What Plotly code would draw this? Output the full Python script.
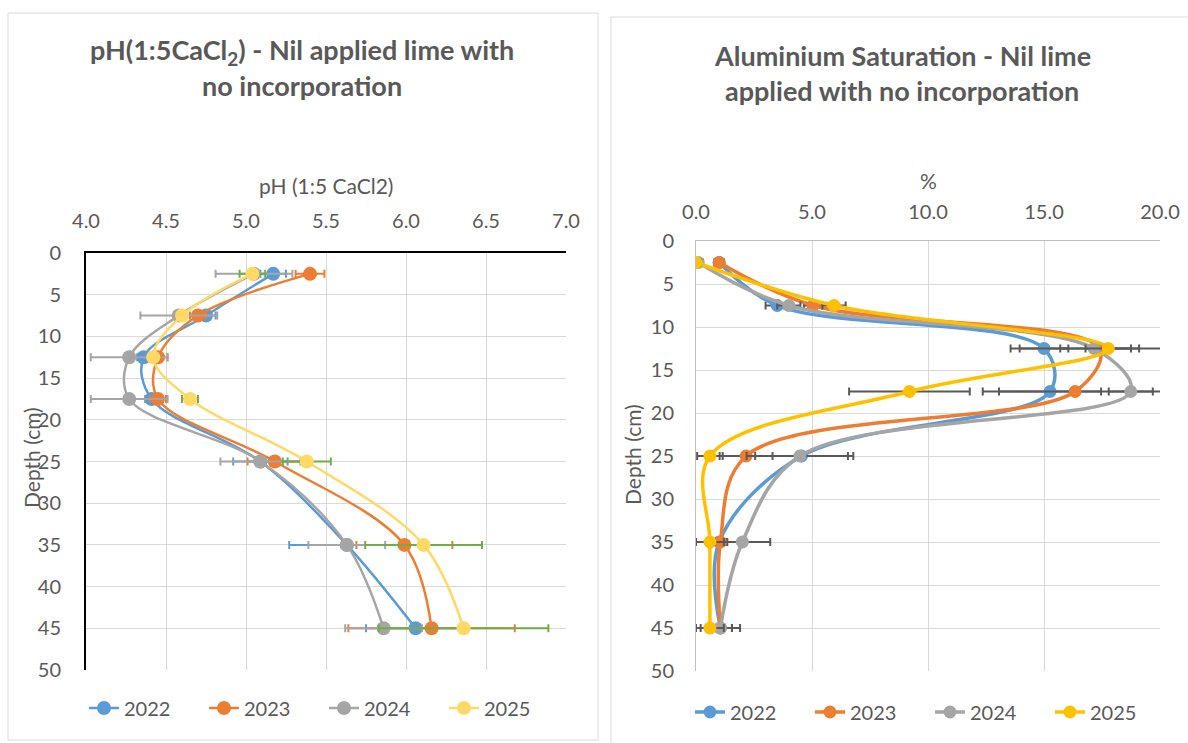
import plotly.graph_objects as go

W, H = 1188, 743

years = ["2022", "2023", "2024", "2025"]
depths = [2.5, 7.5, 12.5, 17.5, 25, 35, 45]

# pH (1:5 CaCl2)
ph_values = {
    "2022": [5.17, 4.75, 4.36, 4.41, 5.09, 5.63, 6.06],
    "2023": [5.40, 4.70, 4.45, 4.45, 5.18, 5.99, 6.16],
    "2024": [5.05, 4.58, 4.27, 4.27, 5.09, 5.63, 5.86],
    "2025": [5.04, 4.60, 4.42, 4.65, 5.38, 6.11, 6.36],
}
ph_err = {
    "2022": [0.08, 0.06, 0.04, 0.04, 0.17, 0.36, 0.31],
    "2023": [0.09, 0.05, 0.06, 0.05, 0.17, 0.30, 0.52],
    "2024": [0.24, 0.24, 0.24, 0.24, 0.25, 0.24, 0.24],
    "2025": [0.08, 0.03, 0.03, 0.05, 0.15, 0.365, 0.53],
}

# Aluminium saturation (%)
al_values = {
    "2022": [1.0, 3.5, 15.0, 15.26, 4.55, 1.0, 1.05],
    "2023": [1.0, 5.05, 17.4, 16.34, 2.16, 1.05, 1.05],
    "2024": [0.1, 4.0, 17.16, 18.74, 4.48, 2.0, 1.05],
    "2025": [0.0, 5.95, 17.77, 9.2, 0.6, 0.6, 0.6],
}
al_err = {
    "2022": [0.2, 0.5, 1.05, 2.2, 2.0, 0.3, 0.85],
    "2023": [0.2, 0.4, 1.7, 3.98, 1.14, 0.3, 0.5],
    "2024": [0.2, 0.5, 3.6, 0.95, 2.3, 1.2, 0.5],
    "2025": [0.2, 0.5, 0.98, 2.6, 0.55, 0.6, 0.6],
}

ph_colors = {"2022": "#5B9BD5", "2023": "#ED7D31", "2024": "#A5A5A5", "2025": "#FFD966"}
ph_err_colors = {"2022": "#5B9BD5", "2023": "#ED7D31", "2024": "#A5A5A5", "2025": "#70AD47"}
al_colors = {"2022": "#5B9BD5", "2023": "#ED7D31", "2024": "#A5A5A5", "2025": "#FFC000"}

FONT = "Lato"
TXT = "#595959"
GRID = "#D9D9D9"

fig = go.Figure()

for y in years:
    fig.add_trace(go.Scatter(
        x=ph_values[y], y=depths, name=y, mode="lines+markers",
        line=dict(color=ph_colors[y], width=2.5, shape="spline", smoothing=1.0),
        marker=dict(color=ph_colors[y], size=14),
        error_x=dict(type="data", array=ph_err[y], color=ph_err_colors[y], thickness=2, width=4),
        xaxis="x", yaxis="y", legend="legend",
    ))

for y in years:
    fig.add_trace(go.Scatter(
        x=al_values[y], y=depths, name=y, mode="lines+markers",
        line=dict(color=al_colors[y], width=3.5, shape="spline", smoothing=1.0),
        marker=dict(color=al_colors[y], size=13),
        error_x=dict(type="data", array=al_err[y], color="#595959", thickness=2, width=4),
        xaxis="x2", yaxis="y2", legend="legend2",
    ))

def px(x):
    return x / W

def py(y):
    return 1 - y / H

tickfont = dict(family=FONT, size=20, color=TXT)

fig.update_layout(
    width=W, height=H, margin=dict(l=0, r=0, t=0, b=0, autoexpand=False),
    paper_bgcolor="white", plot_bgcolor="white",
    showlegend=True,
    xaxis=dict(domain=[px(86), px(566)], range=[4.0, 7.0], dtick=0.5, tickformat=".1f",
               side="top", anchor="y", showgrid=True, gridcolor=GRID, gridwidth=1,
               showline=True, linecolor="black", linewidth=2, mirror=False,
               ticks="", tickfont=tickfont, ticklabelstandoff=15, zeroline=False),
    yaxis=dict(domain=[py(670), py(253)], range=[50, 0], dtick=5, anchor="x",
               showgrid=True, gridcolor=GRID, gridwidth=1,
               showline=True, linecolor="black", linewidth=2,
               ticks="", tickfont=tickfont, ticklabelstandoff=19, zeroline=False),
    xaxis2=dict(domain=[px(696), px(1160)], range=[0, 20], dtick=5, tickformat=".1f",
                side="top", anchor="y2", showgrid=True, gridcolor=GRID, gridwidth=1,
                showline=True, linecolor="#BFBFBF", linewidth=1,
                ticks="", tickfont=tickfont, ticklabelstandoff=13, zeroline=False),
    yaxis2=dict(domain=[py(671), py(241)], range=[50, 0], dtick=5, anchor="x2",
                showgrid=True, gridcolor=GRID, gridwidth=1,
                showline=True, linecolor="#BFBFBF", linewidth=1,
                ticks="", tickfont=tickfont, ticklabelstandoff=17, zeroline=False),
    legend=dict(orientation="h", x=px(84), y=py(708), xanchor="left", yanchor="middle",
                font=dict(family=FONT, size=20, color=TXT), entrywidth=75,
                entrywidthmode="pixels", bgcolor="rgba(0,0,0,0)", itemclick=False),
    legend2=dict(orientation="h", x=px(690), y=py(712), xanchor="left", yanchor="middle",
                 font=dict(family=FONT, size=20, color=TXT), entrywidth=75,
                 entrywidthmode="pixels", bgcolor="rgba(0,0,0,0)", itemclick=False),
)

# chart frames
fig.add_shape(type="rect", xref="paper", yref="paper", x0=px(8), x1=px(598), y0=py(740), y1=py(13),
              line=dict(color="#D9D9D9", width=1), fillcolor="rgba(0,0,0,0)", layer="below")
fig.add_shape(type="rect", xref="paper", yref="paper", x0=px(611), x1=px(1200), y0=py(750), y1=py(17),
              line=dict(color="#D9D9D9", width=1), fillcolor="rgba(0,0,0,0)", layer="below")

def ann(text, x, y, size, bold=False, angle=0):
    fig.add_annotation(text=f"<b>{text}</b>" if bold else text, x=px(x), y=py(y),
                       xref="paper", yref="paper", showarrow=False, textangle=angle,
                       xanchor="center", yanchor="middle",
                       font=dict(family=FONT, size=size, color=TXT))

ann("pH(1:5CaCl<sub>2</sub>) - Nil applied lime with", 302, 51, 27, bold=True)
ann("no incorporation", 302, 86, 27, bold=True)
ann("Aluminium Saturation - Nil lime", 902, 55, 27, bold=True)
ann("applied with no incorporation", 902, 91, 27, bold=True)
ann("pH (1:5 CaCl2)", 326, 186, 21)
ann("%", 928, 180, 21)
ann("Depth (cm)", 31, 458, 21, angle=-90)
ann("Depth (cm)", 632, 455, 21, angle=-90)

fig.write_html("out.html")
